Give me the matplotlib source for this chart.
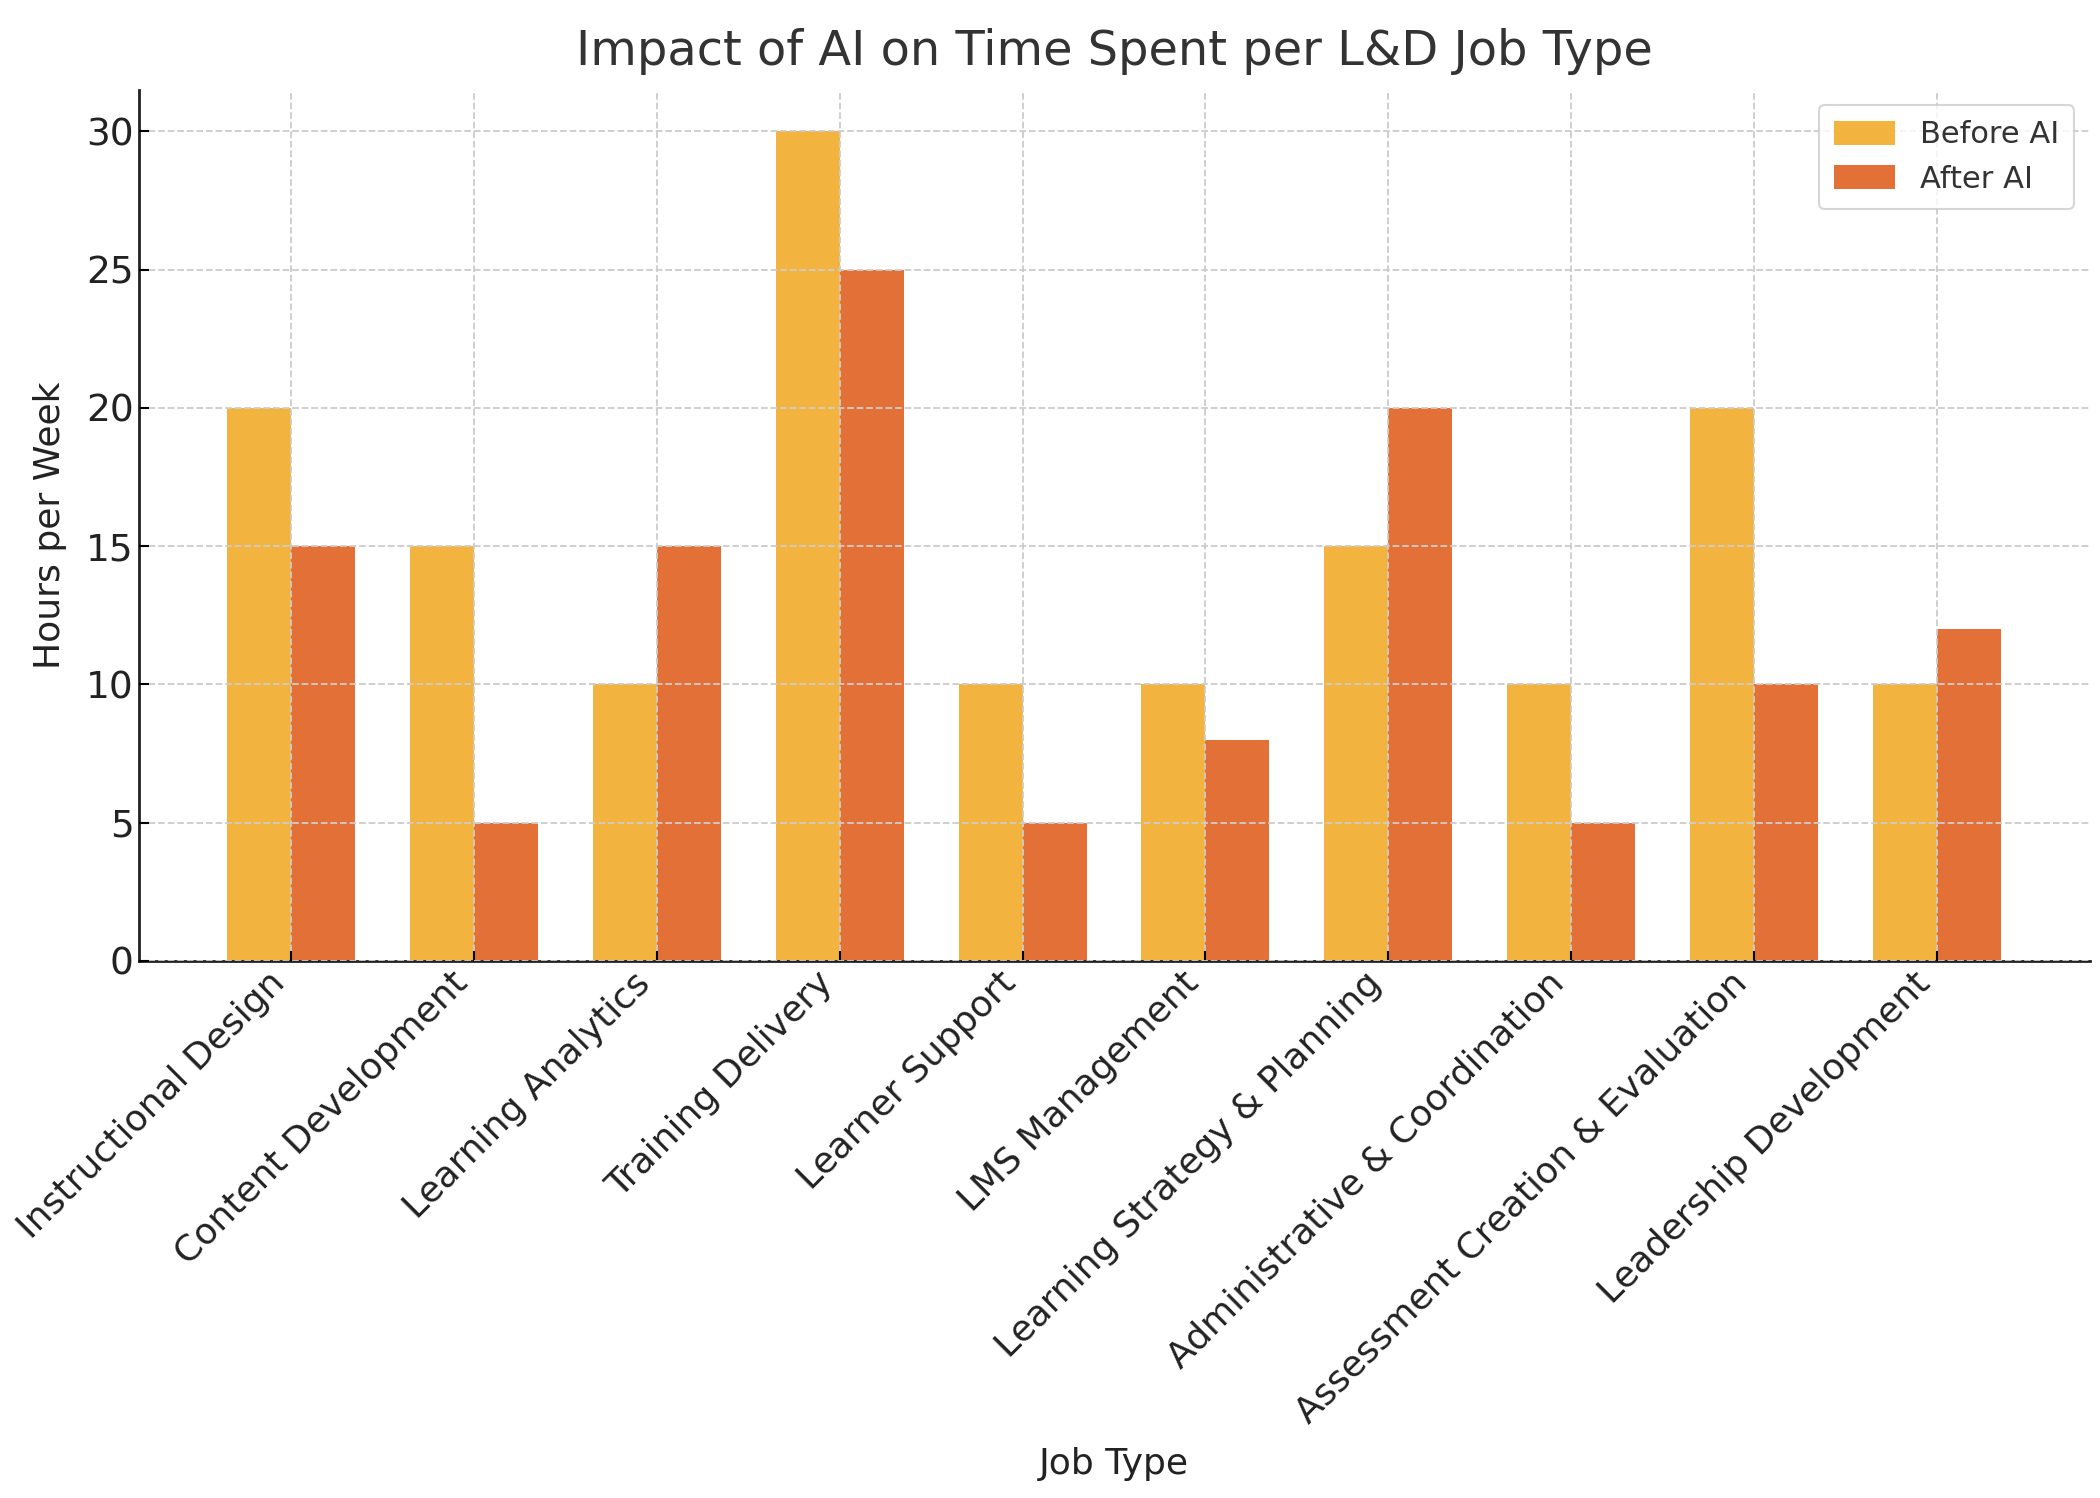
import numpy as np
import matplotlib.pyplot as plt

jobTypes = [
    "Instructional Design",
    "Content Development",
    "Learning Analytics",
    "Training Delivery",
    "Learner Support",
    "LMS Management",
    "Learning Strategy & Planning",
    "Administrative & Coordination",
    "Assessment Creation & Evaluation",
    "Leadership Development",
]
beforeAI = [20, 15, 10, 30, 10, 10, 15, 10, 20, 10]
afterAI = [15, 5, 15, 25, 5, 8, 20, 5, 10, 12]

x = np.arange(len(jobTypes))
barWidth = 0.35

fig, ax = plt.subplots(figsize=(21, 14.98), dpi=100)
fig.subplots_adjust(left=0.066, right=0.995, top=0.94, bottom=0.3585)

ax.bar(x - barWidth / 2, beforeAI, barWidth, color="#F2B33F", label="Before AI")
ax.bar(x + barWidth / 2, afterAI, barWidth, color="#E37036", label="After AI")

ax.set_title("Impact of AI on Time Spent per L&D Job Type", fontsize=34.5, color="#333333", pad=18)
ax.set_xlabel("Job Type", fontsize=26, color="#222222", labelpad=12)
ax.set_ylabel("Hours per Week", fontsize=26, color="#222222", labelpad=14)
ax.set_xticks(x)
ax.set_xticklabels(jobTypes, rotation=45, ha="right", fontsize=26, color="#222222")
ax.tick_params(axis="y", labelsize=27, labelcolor="#222222")
ax.tick_params(direction="in", length=7, width=1.5)
ax.set_yticks([0, 5, 10, 15, 20, 25, 30])

for side in ["top", "right"]:
    ax.spines[side].set_visible(False)
for side in ["left", "bottom"]:
    ax.spines[side].set_linewidth(2)
    ax.spines[side].set_color("#222222")

ax.set_axisbelow(False)
ax.grid(True, linestyle="--", color="#cccccc", linewidth=1.3)

leg = ax.legend(fontsize=22, loc="upper right", borderpad=0.5, handlelength=2.0,
                handleheight=0.8, handletextpad=0.8, fancybox=True)
leg.get_frame().set_edgecolor("#cccccc")
leg.get_frame().set_linewidth(1.5)
for t in leg.get_texts():
    t.set_color("#333333")

plt.savefig("out.png", dpi=100)
